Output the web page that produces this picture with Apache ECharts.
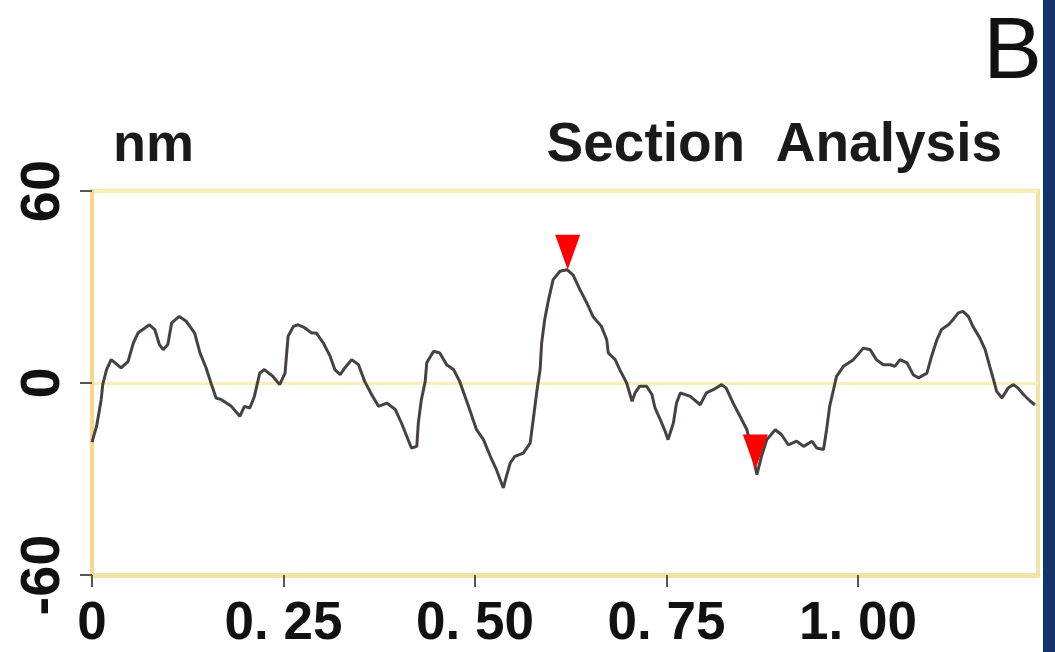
<!DOCTYPE html>
<html>
<head>
<meta charset="utf-8">
<script src="https://cdn.jsdelivr.net/npm/echarts@6/dist/echarts.min.js"></script>
<style>
html,body{margin:0;padding:0;background:#fff;}
#chart{width:1055px;height:652px;}
</style>
</head>
<body>
<div id="chart"></div>
<script>
// ---- data ----
const profileX = [0,0.006,0.012,0.014,0.019,0.025,0.038,0.047,0.054,0.060,0.075,0.082,0.088,0.093,0.099,0.104,0.114,0.123,0.134,0.141,0.149,0.156,0.162,0.169,0.182,0.193,0.199,0.206,0.212,0.219,0.225,0.236,0.245,0.252,0.256,0.263,0.269,0.278,0.287,0.293,0.302,0.311,0.317,0.324,0.330,0.339,0.348,0.356,0.365,0.374,0.385,0.396,0.404,0.411,0.417,0.424,0.426,0.430,0.435,0.437,0.446,0.454,0.463,0.472,0.480,0.487,0.493,0.502,0.511,0.520,0.528,0.537,0.541,0.546,0.552,0.563,0.572,0.576,0.581,0.585,0.587,0.591,0.596,0.602,0.611,0.620,0.628,0.637,0.646,0.654,0.665,0.672,0.674,0.683,0.689,0.698,0.705,0.709,0.715,0.724,0.731,0.735,0.742,0.749,0.752,0.759,0.763,0.768,0.781,0.794,0.802,0.811,0.822,0.828,0.837,0.846,0.855,0.861,0.868,0.874,0.881,0.892,0.900,0.909,0.920,0.929,0.940,0.946,0.955,0.959,0.963,0.968,0.972,0.981,0.994,1.007,1.016,1.024,1.033,1.042,1.048,1.055,1.064,1.072,1.079,1.090,1.096,1.103,1.109,1.118,1.124,1.131,1.137,1.144,1.150,1.159,1.166,1.172,1.177,1.181,1.188,1.196,1.203,1.209,1.216,1.225,1.231];
const profileY = [-18.5,-13.5,-5.2,-0.5,4.2,7.3,4.7,6.7,12.5,15.6,18.2,16.7,12.0,10.4,12.0,18.8,20.8,19.3,15.6,9.4,4.7,-0.5,-4.7,-5.2,-7.3,-10.4,-7.3,-7.8,-4.2,3.1,4.2,2.1,-0.5,3.1,14.6,17.7,18.2,17.2,15.6,15.6,12.5,8.3,4.2,2.6,4.7,7.3,5.7,0.5,-3.6,-7.3,-6.3,-8.3,-12.5,-16.7,-20.3,-19.8,-12.5,-5.2,0.5,6.3,9.9,9.4,5.7,4.2,0.5,-4.2,-8.3,-14.6,-17.7,-22.9,-27.1,-32.8,-29.2,-25.0,-22.9,-21.9,-18.8,-11.5,-2.1,4.2,12.5,19.8,26.0,32.3,34.9,35.4,33.8,29.2,25.0,20.8,17.7,13.5,9.4,7.3,4.2,0,-5.7,-3.1,-1.0,-1.0,-3.6,-7.8,-11.5,-15.6,-17.7,-12.5,-6.3,-3.1,-4.2,-6.8,-3.1,-2.1,-0.5,-1.6,-6.3,-10.4,-14.6,-20.8,-28.6,-22.9,-17.7,-14.6,-16.1,-19.3,-18.2,-19.8,-18.2,-20.3,-20.8,-14.6,-7.3,-2.1,2.1,5.2,7.3,10.9,10.4,7.3,5.7,5.7,5.2,7.3,6.3,2.6,1.6,3.1,8.3,13.5,16.7,18.2,19.8,21.9,22.4,20.8,17.7,14.1,10.4,5.2,1.0,-2.6,-4.7,-1.6,-0.5,-1.6,-3.6,-5.7,-6.8];
const markerX = [0.621, 0.866];
const markerY = [35.4, -27.0];
const xTickValues = [0, 0.25, 0.5, 0.75, 1.0];
const xTickLabels = ['0', '0. 25', '0. 50', '0. 75', '1. 00'];
const yTickLabels = {'60': '60', '0': '0', '-60': '-60'};

const FONT = '"Liberation Sans", Arial, sans-serif';
const chart = echarts.init(document.getElementById('chart'), null, {renderer: 'canvas'});
const lineData = profileX.map((x, i) => [x, profileY[i]]);
const markData = markerX.map((x, i) => [x, markerY[i]]);

chart.setOption({
  animation: false,
  backgroundColor: '#ffffff',
  title: [
    {text: 'nm', left: 108, top: 114, textStyle: {fontFamily: FONT, fontWeight: 'bold', fontSize: 54, color: '#1a1a1a'}},
    {text: 'Section  Analysis', right: 48, top: 113, textStyle: {fontFamily: FONT, fontWeight: 'bold', fontSize: 55, color: '#1a1a1a'}},
    {text: 'B', right: 8, top: 5, textStyle: {fontFamily: FONT, fontWeight: 'normal', fontSize: 88, color: '#111111'}}
  ],
  graphic: [
    {type: 'rect', right: 0, top: 0, shape: {width: 12, height: 652}, style: {fill: '#13346a'}, z: 100}
  ],
  grid: {left: 92, right: 17, top: 191, bottom: 77, show: true, borderColor: '#f3e3a8', borderWidth: 4, backgroundColor: 'transparent'},
  xAxis: {
    type: 'value', min: 0, max: 1.235,
    axisLine: {show: true, onZero: false, lineStyle: {color: '#f1e3a6', width: 5}},
    axisTick: {show: true, customValues: xTickValues, length: 12, lineStyle: {color: '#555', width: 2}},
    axisLabel: {customValues: xTickValues, margin: 23, fontFamily: FONT, fontWeight: 'bold', fontSize: 53, color: '#111',
      formatter: (v) => { const i = xTickValues.findIndex(t => Math.abs(t - v) < 1e-9); return i >= 0 ? xTickLabels[i] : ''; }},
    splitLine: {show: false}
  },
  yAxis: {
    type: 'value', min: -60, max: 60, interval: 60,
    axisLine: {show: true, lineStyle: {color: '#f3d88e', width: 4}},
    axisTick: {show: true, length: 12, lineStyle: {color: '#555', width: 2}},
    axisLabel: {rotate: 90, margin: 20, fontFamily: FONT, fontWeight: 'bold', fontSize: 56, color: '#111',
      formatter: (v) => yTickLabels[String(v)] || ''},
    splitLine: {show: true, lineStyle: {color: '#f8efb8', width: 3}}
  },
  series: [
    {type: 'line', data: lineData, showSymbol: false, symbol: 'none', smooth: false,
      lineStyle: {color: '#474242', width: 3}, z: 3},
    {type: 'scatter', data: markData, symbol: 'triangle', symbolRotate: 180, symbolSize: [25, 35],
      symbolOffset: [0, '-50%'], itemStyle: {color: '#ff0000', opacity: 1}, z: 4}
  ]
});
</script>
</body>
</html>
